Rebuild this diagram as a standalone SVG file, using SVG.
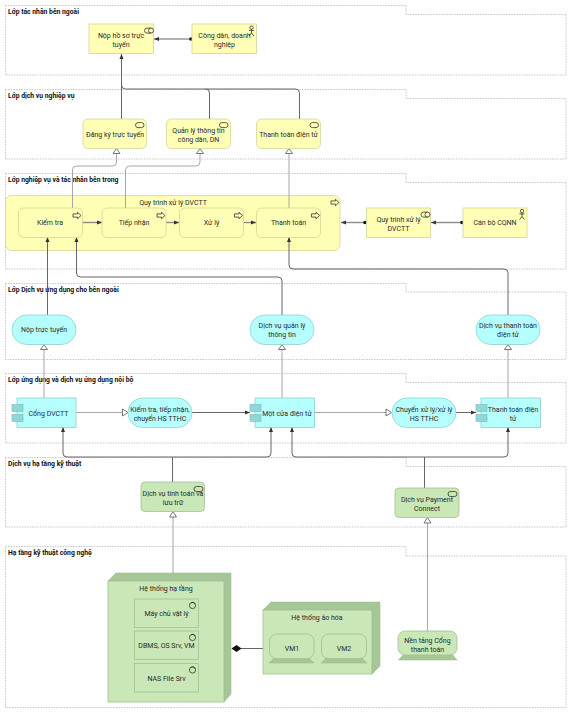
<svg xmlns="http://www.w3.org/2000/svg" width="572" height="714" viewBox="0 0 572 714">
<style>
text{font-family:Roboto,"Noto Sans","DejaVu Sans",sans-serif;font-size:7px;fill:#2a2a2a;text-anchor:middle}
.gt{font-weight:700;font-size:6.8px;text-anchor:start;fill:#111}
.frame{fill:#fff;stroke:#c4c4c4;stroke-width:.9;stroke-dasharray:1.6 1}
.by{fill:#ffffb5;stroke:#d4d49a;stroke-width:.8}
.ac{fill:#b5ffff;stroke:#8fd0d0;stroke-width:.8}
.tg{fill:#c9e7b7;stroke:#a3c093;stroke-width:.8}
.tgd{fill:#a5c696;stroke:#a3c093;stroke-width:.6}
.tab{fill:#8fd8d8;stroke:#7cb9b9;stroke-width:.6}
.ic{fill:none;stroke:#333;stroke-width:.8}
.c{fill:none;stroke:#555;stroke-width:.9}
.d{fill:none;stroke:#666;stroke-width:1}
.g{fill:none;stroke:#a9a5a9;stroke-width:1}
.t{fill:none;stroke:#8f8c86;stroke-width:1.4}
.w{fill:#fff;stroke:#555;stroke-width:.8}
</style>
<defs>
<marker id="ah" markerWidth="6" markerHeight="6" refX="5" refY="2.5" orient="auto" markerUnits="userSpaceOnUse"><path d="M0 .5L5 2.5L0 4.5z" fill="#333"/></marker>
<marker id="dot" markerWidth="5" markerHeight="5" refX="2.5" refY="2.5" orient="auto" markerUnits="userSpaceOnUse"><circle cx="2.5" cy="2.5" r="1.8" fill="#111"/></marker>
<g id="proc"><path class="ic" d="M0 -1.6H4.5V-3.2L8 0L4.5 3.2V1.6H0z"/></g>
<g id="svc"><rect class="ic" x="0" y="-2.4" width="8.5" height="5" rx="2.5"/></g>
<g id="itf"><path class="ic" d="M2.5 -2.4H6.5A2.5 2.5 0 0 1 6.5 2.6H2.5A2.5 2.5 0 0 1 2.5 -2.4zM6.5 -2.4A2.5 2.5 0 0 0 6.5 2.6"/></g>
<g id="act"><circle class="ic" cx="0" cy="-3.4" r="1.7"/><path class="ic" d="M0 -1.7V2M-2.6 -.6H2.6M0 2L-2.4 5M0 2L2.4 5"/></g>
<g id="nd"><circle class="ic" cx="0" cy="0" r="3.1"/><path class="ic" d="M-1.4 -2.8A3.1 3.1 0 0 1 2.9 -1.2"/></g>
</defs>

<g id="frames">
<g id="lop1"><path class="frame" d="M5.500 5.500H406V14.500H566V75H5.500z"/><text class="gt" x="8" y="13.500">Lớp tác nhân bên ngoài</text></g>
<g id="lop2"><path class="frame" d="M5.500 89.500H406V98.500H566V159H5.500z"/><text class="gt" x="8" y="97.500">Lớp dịch vụ nghiệp vụ</text></g>
<g id="lop3"><path class="frame" d="M5.500 173.500H406V182.500H566V269H5.500z"/><text class="gt" x="8" y="181.500">Lớp nghiệp vụ và tác nhân bên trong</text></g>
<g id="lop4"><path class="frame" d="M5.500 283.500H406V292H566V359.500H5.500z"/><text class="gt" x="8" y="291.500">Lớp Dịch vụ ứng dụng cho bên ngoài</text></g>
<g id="lop5"><path class="frame" d="M5.500 373.500H406V382.500H566V443H5.500z"/><text class="gt" x="8" y="381.500">Lớp ứng dụng và dịch vụ ứng dụng nội bộ</text></g>
<g id="lop6"><path class="frame" d="M5.500 457.500H406V466.500H566V527H5.500z"/><text class="gt" x="8" y="465.500">Dịch vụ hạ tầng kỹ thuật</text></g>
<g id="lop7"><path class="frame" d="M5.500 546.500H406V556H566V707.500H5.500z"/><text class="gt" x="8" y="555">Hạ tầng kỹ thuật công nghệ</text></g>
</g>

<g id="n-quytrinh-lon"><rect class="by" x="5.500" y="195.500" width="334.500" height="55" rx="6"/><text x="173" y="205">Quy trình xử lý DVCTT</text><use href="#proc" x="331" y="202.500"/></g>

<g id="connectors">
<path class="c" d="M121.500 119V54" marker-end="url(#ah)"/>
<path class="c" d="M121.500 85Q121.500 89 125.500 89H295.500Q299.500 89 299.500 93V119M205.500 89Q209.500 89 209.500 93V119"/>
<path class="c" d="M191 39H154" marker-start="url(#dot)" marker-end="url(#ah)"/>
<path class="g" d="M72.500 208V170Q72.500 166 76.500 166H112.500Q116.500 166 116.500 162V153"/>
<path class="g" d="M125.500 208V170Q125.500 166 129.500 166H196Q200 166 200 162V153"/>
<path class="g" d="M289 208V153"/>
<path class="t" d="M82 222.500H102" marker-end="url(#ah)"/>
<path class="t" d="M166 222.500H179" marker-end="url(#ah)"/>
<path class="t" d="M243 222.500H256" marker-end="url(#ah)"/>
<path class="t" d="M365 222.500H341" marker-start="url(#dot)" marker-end="url(#ah)"/>
<path class="t" d="M462 222.500H431" marker-start="url(#dot)" marker-end="url(#ah)"/>
<path class="c" d="M47.500 315V237" marker-end="url(#ah)"/>
<path class="c" d="M282 315V281Q282 277 278 277H80.500Q76.500 277 76.500 273V237" marker-end="url(#ah)"/>
<path class="c" d="M508 315V273Q508 269 504 269H293Q289 269 289 265V237" marker-end="url(#ah)"/>
<path class="g" d="M44 398V349"/>
<path class="g" d="M282 398V349"/>
<path class="g" d="M508 398V349"/>
<path class="g" d="M76 412.500H122.500"/>
<path class="g" d="M314 412.500H386.500"/>
<path class="c" d="M192 412.500H250" marker-end="url(#ah)"/>
<path class="c" d="M456 412.500H476" marker-end="url(#ah)"/>
<path class="d" d="M172.500 482V457"/>
<path class="c" d="M172.500 457H67Q63 457 63 453V427" marker-end="url(#ah)"/>
<path class="c" d="M172.500 457H267Q271 457 271 453V427" marker-end="url(#ah)"/>
<path class="d" d="M424.500 488V457"/>
<path class="c" d="M424.500 457H296Q292 457 292 453V427" marker-end="url(#ah)"/>
<path class="c" d="M424.500 457H504Q508 457 508 453V427" marker-end="url(#ah)"/>
<path class="g" d="M173 573V517"/>
<path class="g" d="M427.500 631V523"/>
<path class="c" d="M269 648.500H241"/>
<path d="M231.500 648.500L236.500 645L241.500 648.500L236.500 652z" fill="#111"/>
<g id="tam-giac">
<path class="w" d="M116.500 148.500L113 153.500H120z"/><path class="w" d="M200 148.500L196.500 153.500H203.500z"/><path class="w" d="M289 148.500L285.500 153.500H292.500z"/>
<path class="w" d="M44 344.500L40.500 349.500H47.500z"/><path class="w" d="M282 344.500L278.500 349.500H285.500z"/><path class="w" d="M508 344.500L504.500 349.500H511.500z"/>
<path class="w" d="M128 412.500L122.500 409V416z"/><path class="w" d="M391.500 412.500L386 409V416z"/>
<path class="w" d="M173 511.500L169.500 517H176.500z"/><path class="w" d="M427.500 517.500L424 523H431z"/>
</g>
</g>

<g id="n-nop-ho-so"><rect class="by" x="89" y="24" width="64.500" height="29.500"/><use href="#itf" x="144.500" y="30.500"/><text x="121" y="37.500">Nộp hồ sơ trực</text><text x="121" y="46.500">tuyến</text></g>
<g id="n-cong-dan"><rect class="by" x="192" y="24" width="64.500" height="29.500"/><use href="#act" x="251.500" y="31"/><text x="224.500" y="37.500">Công dân, doanh</text><text x="224.500" y="46.500">nghiệp</text></g>
<g id="n-dang-ky"><rect class="by" x="83" y="119" width="63.500" height="29.500" rx="5"/><use href="#svc" x="135.500" y="125"/><text x="115" y="136.500">Đăng ký trực tuyến</text></g>
<g id="n-quan-ly"><rect class="by" x="166.500" y="119" width="64" height="29.500" rx="5"/><use href="#svc" x="219.500" y="125"/><text x="198.500" y="132.500">Quản lý thông tin</text><text x="198.500" y="141.500">công dân, DN</text></g>
<g id="n-thanh-toan"><rect class="by" x="256.500" y="119" width="64" height="29.500" rx="5"/><use href="#svc" x="310" y="125"/><text x="288.500" y="136.500">Thanh toán điện tử</text></g>

<g id="n-kiem-tra"><rect class="by" x="18.500" y="208" width="64" height="29.500" rx="5"/><use href="#proc" x="73" y="215.500"/><text x="50" y="225">Kiểm tra</text></g>
<g id="n-tiep-nhan"><rect class="by" x="102" y="208" width="64" height="29.500" rx="5"/><use href="#proc" x="157" y="215.500"/><text x="134" y="225">Tiếp nhận</text></g>
<g id="n-xu-ly"><rect class="by" x="179.500" y="208" width="64" height="29.500" rx="5"/><use href="#proc" x="234.500" y="215.500"/><text x="211.500" y="225">Xử lý</text></g>
<g id="n-thanh-toan-2"><rect class="by" x="256.500" y="208" width="64" height="29.500" rx="5"/><use href="#proc" x="311.500" y="215.500"/><text x="288.500" y="225">Thanh toán</text></g>
<g id="n-quy-trinh"><rect class="by" x="366.500" y="208" width="64" height="29.500"/><use href="#itf" x="421" y="214.500"/><text x="398.500" y="221.500">Quy trình xử lý</text><text x="398.500" y="230.500">DVCTT</text></g>
<g id="n-can-bo"><rect class="by" x="463" y="208" width="64" height="29.500"/><use href="#act" x="522" y="214.500"/><text x="495" y="225">Cán bộ CQNN</text></g>

<g id="n-nop-truc-tuyen"><rect class="ac" x="12" y="315" width="64" height="29.500" rx="14.700"/><text x="44" y="332">Nộp trực tuyến</text></g>
<g id="n-dv-quan-ly"><rect class="ac" x="250" y="315" width="64" height="29.500" rx="14.700"/><text x="282" y="328">Dịch vụ quản lý</text><text x="282" y="337">thông tin</text></g>
<g id="n-dv-thanh-toan"><rect class="ac" x="476" y="315" width="64" height="29.500" rx="14.700"/><text x="508" y="328">Dịch vụ thanh toán</text><text x="508" y="337">điện tử</text></g>

<g id="n-cong-dvctt"><rect class="ac" x="17" y="398" width="59" height="29.500"/><rect class="tab" x="12" y="404.500" width="11" height="7"/><rect class="tab" x="12" y="414.500" width="11" height="7"/><text x="48.500" y="416">Cổng DVCTT</text></g>
<g id="n-kiem-tra-pill"><rect class="ac" x="128" y="398" width="64" height="29.500" rx="14.700"/><text x="160" y="411.500">Kiểm tra, tiếp nhận,</text><text x="160" y="420.500">chuyển HS TTHC</text></g>
<g id="n-mot-cua"><rect class="ac" x="255" y="398" width="59.500" height="29.500"/><rect class="tab" x="250" y="404.500" width="11" height="7"/><rect class="tab" x="250" y="414.500" width="11" height="7"/><text x="287" y="416">Một cửa điện tử</text></g>
<g id="n-chuyen"><rect class="ac" x="392" y="398" width="64" height="29.500" rx="14.700"/><text x="424" y="411.500">Chuyển xử lý/xử lý</text><text x="424" y="420.500">HS TTHC</text></g>
<g id="n-tt-dien-tu"><rect class="ac" x="481" y="398" width="59.500" height="29.500"/><rect class="tab" x="476" y="404.500" width="11" height="7"/><rect class="tab" x="476" y="414.500" width="11" height="7"/><text x="513" y="411.500">Thanh toán điện</text><text x="513" y="420.500">tử</text></g>

<g id="n-tinh-toan"><rect class="tg" x="141" y="482" width="63.500" height="29.500" rx="4"/><rect class="ic" x="194" y="486.500" width="9" height="5" rx="2.500"/><text x="173" y="495.500">Dịch vụ tính toán và</text><text x="173" y="504.500">lưu trữ</text></g>
<g id="n-payment"><rect class="tg" x="395" y="488" width="64" height="29.500" rx="4"/><rect class="ic" x="448" y="491.500" width="9" height="5" rx="2.500"/><text x="427" y="501.500">Dịch vụ Payment</text><text x="427" y="510.500">Connect</text></g>

<g id="n-he-thong-ha-tang"><path class="tgd" d="M108 581L116 573H231L224 581z"/><path class="tgd" d="M224 581L231 573V694L224 702z"/><rect class="tg" x="108" y="581" width="116" height="121"/><text x="166" y="590.500">Hệ thống hạ tầng</text></g>
<g id="n-may-chu"><rect class="tg" x="134.500" y="599" width="64" height="28.500"/><use href="#nd" x="192.500" y="605.500"/><text x="166.500" y="616">Máy chủ vật lý</text></g>
<g id="n-dbms"><rect class="tg" x="134.500" y="631" width="64" height="28.500"/><use href="#nd" x="192.500" y="637.500"/><text x="166.500" y="648">DBMS, OS Srv, VM</text></g>
<g id="n-nas"><rect class="tg" x="134.500" y="663.500" width="64" height="28.500"/><use href="#nd" x="192.500" y="670"/><text x="166.500" y="680.500">NAS File Srv</text></g>

<g id="n-ao-hoa"><path class="tgd" d="M263 610L271 602H380L372 610z"/><path class="tgd" d="M372 610L380 602V666L372 674z"/><rect class="tg" x="263" y="610" width="109" height="64"/><text x="317" y="619.500">Hệ thống ảo hóa</text></g>
<g id="n-vm1"><path class="tgd" d="M269 663L274 658H309L314 663z"/><rect class="tg" x="269.500" y="634" width="44.500" height="24.500" rx="7"/><text x="292" y="651">VM1</text></g>
<g id="n-vm2"><path class="tgd" d="M321 663L326 658H362L367 663z"/><rect class="tg" x="321.500" y="634" width="45" height="24.500" rx="7"/><text x="344" y="651">VM2</text></g>
<g id="n-nen-tang"><path class="tgd" d="M398.500 660L404 654H452L457 660z"/><rect class="tg" x="398" y="631" width="59" height="24" rx="7"/><text x="427.500" y="643">Nền tảng Cổng</text><text x="427.500" y="652">thanh toán</text></g>
</svg>
